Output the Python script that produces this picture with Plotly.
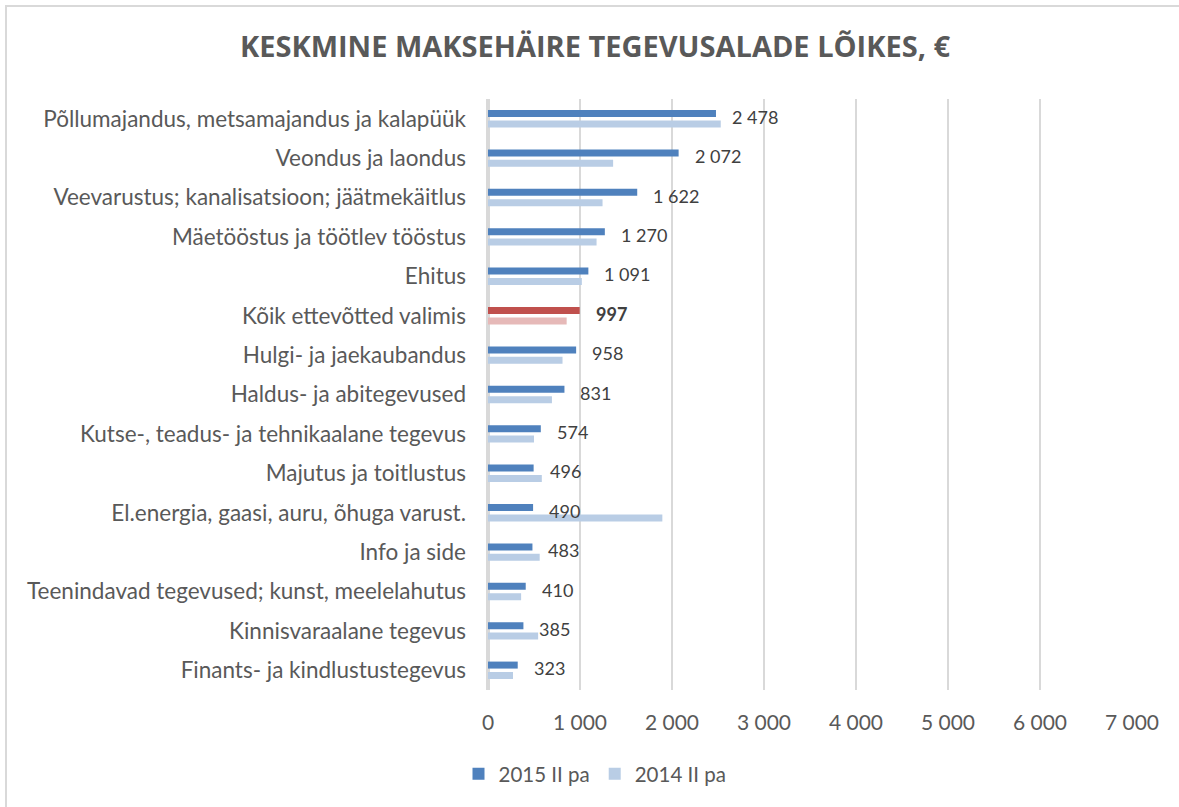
import plotly.graph_objects as go

categories = [
    "Põllumajandus, metsamajandus ja kalapüük",
    "Veondus ja laondus",
    "Veevarustus; kanalisatsioon; jäätmekäitlus",
    "Mäetööstus ja töötlev tööstus",
    "Ehitus",
    "Kõik ettevõtted valimis",
    "Hulgi- ja jaekaubandus",
    "Haldus- ja abitegevused",
    "Kutse-, teadus- ja tehnikaalane tegevus",
    "Majutus ja toitlustus",
    "El.energia, gaasi, auru, õhuga varust.",
    "Info ja side",
    "Teenindavad tegevused; kunst, meelelahutus",
    "Kinnisvaraalane tegevus",
    "Finants- ja kindlustustegevus",
]
values_2015 = [2478, 2072, 1622, 1270, 1091, 997, 958, 831, 574, 496, 490, 483, 410, 385, 323]
values_2014 = [2530, 1360, 1245, 1180, 1020, 855, 810, 695, 500, 585, 1895, 562, 360, 545, 272]
highlight = "Kõik ettevõtted valimis"
tick_values = [0, 1000, 2000, 3000, 4000, 5000, 6000, 7000]

DARK = "#4f81bd"
LIGHT = "#b9cde5"
RED = "#c0504d"
LIGHT_RED = "#e6b9b8"

c2015 = [RED if c == highlight else DARK for c in categories]
c2014 = [LIGHT_RED if c == highlight else LIGHT for c in categories]

FONT = "Lato"

fig = go.Figure()
fig.add_trace(go.Bar(y=categories, x=values_2015, orientation="h", name="2015 II pa",
                     marker=dict(color=c2015, line=dict(width=0))))
fig.add_trace(go.Bar(y=categories, x=values_2014, orientation="h", name="2014 II pa",
                     marker=dict(color=c2014, line=dict(width=0))))

for c, v in zip(categories, values_2015):
    txt = f"{v:,}".replace(",", " ")
    if c == highlight:
        txt = f"<b>{txt}</b>"
    fig.add_annotation(x=v, y=c, text=txt, showarrow=False, xanchor="left",
                       xshift=14, yshift=2, font=dict(family=FONT, size=18, color="#404040"))

fig.add_shape(type="rect", xref="paper", yref="paper",
              x0=(6 - 488) / 644, x1=(1200 - 488) / 644,
              y0=(690 - 830) / 591, y1=(690 - 6) / 591,
              line=dict(color="#d9d9d9", width=2), fillcolor="rgba(0,0,0,0)", layer="below")

fig.update_layout(
    width=1179, height=807,
    margin=dict(l=488, r=47, t=99, b=117),
    paper_bgcolor="white", plot_bgcolor="white",
    separators=", ",
    barmode="group", bargap=0.47, bargroupgap=0.33,
    title=dict(text="<b>KESKMINE MAKSEHÄIRE TEGEVUSALADE LÕIKES, €</b>",
               x=595 / 1179, xref="container", xanchor="center",
               y=1 - 47 / 807, yref="container", yanchor="middle",
               font=dict(family="Open Sans", size=29, color="#595959")),
    font=dict(family=FONT, size=18, color="#595959"),
    xaxis=dict(range=[0, 7000], tickvals=tick_values, tickformat=",d",
               showgrid=True, gridcolor="#d9d9d9", gridwidth=2,
               zeroline=True, zerolinecolor="#d9d9d9", zerolinewidth=4,
               ticks="", ticklabelstandoff=18,
               tickfont=dict(family=FONT, size=21, color="#595959"), fixedrange=True),
    yaxis=dict(autorange="reversed", ticks="", ticklabelstandoff=21, showgrid=False,
               tickfont=dict(family=FONT, size=22.5, color="#595959")),
    legend=dict(orientation="h", xref="container", x=595 / 1179, xanchor="center",
                yref="container", y=1 - 774 / 807, yanchor="middle",
                font=dict(family=FONT, size=20.5, color="#595959"), traceorder="normal"),
    showlegend=True,
)

fig.write_html("out.html", config={"displayModeBar": False},
               post_script="document.body.style.margin='0px';")
